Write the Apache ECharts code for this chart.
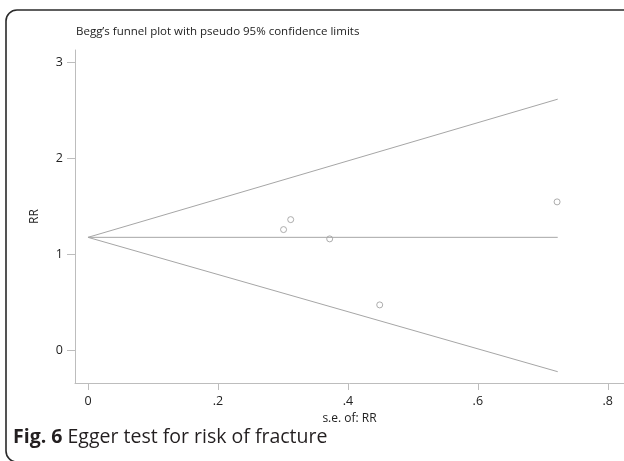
<!DOCTYPE html>
<html>
<head>
<meta charset="utf-8">
<script src="https://cdn.jsdelivr.net/npm/echarts@6/dist/echarts.min.js"></script>
<style>html,body{margin:0;padding:0;background:#fff}#c{width:624px;height:461px}</style>
</head>
<body>
<div id="c"></div>
<script>
// Study points: standard error and RR
const studySE = [0.301, 0.312, 0.372, 0.449, 0.722];
const studyRR = [1.256, 1.360, 1.159, 0.470, 1.545];
// Pooled estimate and pseudo 95% confidence limits (read at s.e. 0 and max s.e.)
const limitSE = [0, 0.723];
const pooledRR = [1.175, 1.175];
const upperLimit = [1.175, 2.617];
const lowerLimit = [1.175, -0.227];
// Tick labels
const xTicks = [0, 0.2, 0.4, 0.6, 0.8];
const xTickLabels = ['0', '.2', '.4', '.6', '.8'];
const yTicks = [0, 1, 2, 3];
const yTickLabels = ['0', '1', '2', '3'];

const FONT = '"Open Sans", "Noto Sans", sans-serif';
const lineColor = '#a6a6a6';
const pts = studySE.map((s, i) => [s, studyRR[i]]);
const lineData = arr => limitSE.map((s, i) => [s, arr[i]]);

const chart = echarts.init(document.getElementById('c'), null, {renderer: 'canvas'});
chart.setOption({
  animation: false,
  backgroundColor: '#fff',
  grid: {left: 75, top: 50, width: 549, height: 333, containLabel: false},
  xAxis: {
    type: 'value', min: -0.02, max: 0.825,
    name: 's.e. of: RR', nameLocation: 'middle', nameGap: 29,
    nameTextStyle: {fontFamily: FONT, fontSize: 12, color: '#222'},
    axisLine: {show: true, onZero: false, lineStyle: {color: '#bdbdbd', width: 1}},
    axisTick: {show: true, length: 7, customValues: xTicks, lineStyle: {color: '#bdbdbd'}},
    axisLabel: {customValues: xTicks, margin: 12, fontFamily: FONT, fontSize: 12.5, color: '#222',
      formatter: v => xTickLabels[xTicks.findIndex(t => Math.abs(t - v) < 1e-9)] ?? ''},
    splitLine: {show: false}
  },
  yAxis: {
    type: 'value', min: -0.345, max: 3.13,
    name: 'RR', nameLocation: 'middle', nameGap: 34, nameRotate: 90,
    nameTextStyle: {fontFamily: FONT, fontSize: 12, color: '#222'},
    axisLine: {show: true, onZero: false, lineStyle: {color: '#bdbdbd', width: 1}},
    axisTick: {show: true, length: 8, customValues: yTicks, lineStyle: {color: '#bdbdbd'}},
    axisLabel: {customValues: yTicks, margin: 12, fontFamily: FONT, fontSize: 12.5, color: '#222',
      formatter: v => yTickLabels[yTicks.findIndex(t => Math.abs(t - v) < 1e-9)] ?? ''},
    splitLine: {show: false}
  },
  series: [
    {type: 'line', data: lineData(upperLimit), symbol: 'none', lineStyle: {color: lineColor, width: 1}},
    {type: 'line', data: lineData(lowerLimit), symbol: 'none', lineStyle: {color: lineColor, width: 1}},
    {type: 'line', data: lineData(pooledRR), symbol: 'none', lineStyle: {color: lineColor, width: 1}},
    {type: 'scatter', data: pts, symbol: 'circle', symbolSize: 6,
      itemStyle: {color: '#fff', borderColor: '#999', borderWidth: 1}}
  ],
  graphic: [
    {type: 'rect', shape: {x: 6, y: 10, width: 700, height: 452, r: 11},
      style: {fill: 'none', stroke: '#2a2a2a', lineWidth: 1.6}, silent: true},
    {type: 'text', x: 76, y: 26, style: {text: 'Begg\u2019s funnel plot with pseudo 95% confidence limits',
      font: '11.5px ' + FONT, fill: '#222'}},
    {type: 'text', x: 13, y: 427, style: {
      text: '{b|Fig. 6} Egger test for risk of fracture',
      font: '19.5px ' + FONT, fill: '#231f20',
      rich: {b: {fontWeight: 'bold', fontSize: 19.5, fontFamily: FONT, fill: '#231f20'}}}}
  ]
});
</script>
</body>
</html>
